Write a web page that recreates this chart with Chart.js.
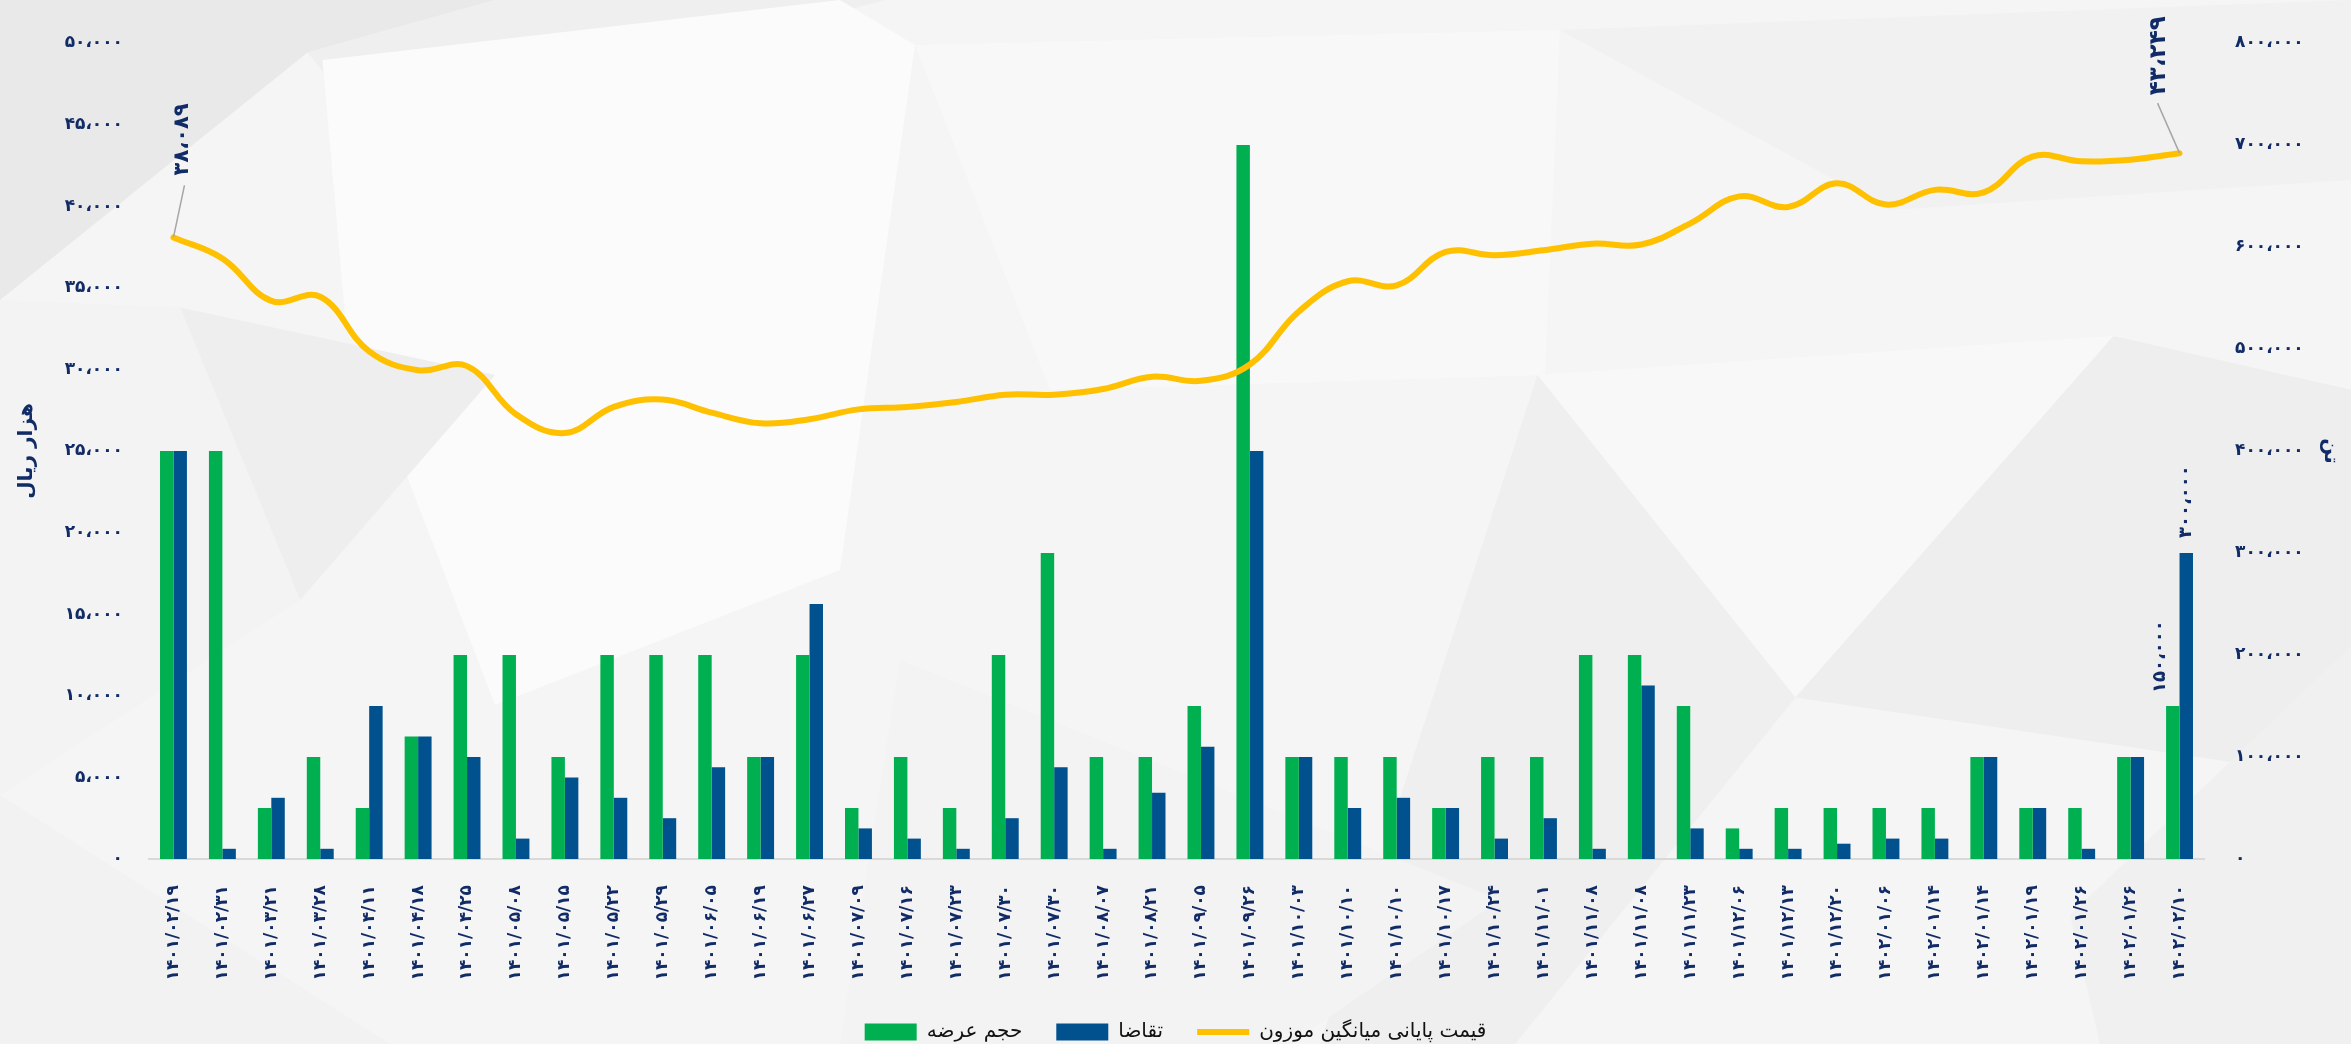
<!DOCTYPE html>
<html lang="fa">
<head>
<meta charset="utf-8">
<title>عرضه، تقاضا و قیمت</title>
<script src="https://cdn.jsdelivr.net/npm/chart.js@4.4.1/dist/chart.umd.min.js"></script>
<style>
  html, body { margin: 0; padding: 0; background: #f5f5f5; }
  #wrap { position: relative; width: 2351px; height: 1044px; }
</style>
</head>
<body>
<div id="wrap"><canvas id="supplyChart"></canvas></div>
<script>
const dates = [
    '۱۴۰۱/۰۲/۱۹', '۱۴۰۱/۰۲/۳۱', '۱۴۰۱/۰۳/۲۱', '۱۴۰۱/۰۳/۲۸', '۱۴۰۱/۰۴/۱۱', '۱۴۰۱/۰۴/۱۸',
    '۱۴۰۱/۰۴/۲۵', '۱۴۰۱/۰۵/۰۸', '۱۴۰۱/۰۵/۱۵', '۱۴۰۱/۰۵/۲۲', '۱۴۰۱/۰۵/۲۹', '۱۴۰۱/۰۶/۰۵',
    '۱۴۰۱/۰۶/۱۹', '۱۴۰۱/۰۶/۲۷', '۱۴۰۱/۰۷/۰۹', '۱۴۰۱/۰۷/۱۶', '۱۴۰۱/۰۷/۲۳', '۱۴۰۱/۰۷/۳۰',
    '۱۴۰۱/۰۷/۳۰', '۱۴۰۱/۰۸/۰۷', '۱۴۰۱/۰۸/۲۱', '۱۴۰۱/۰۹/۰۵', '۱۴۰۱/۰۹/۲۶', '۱۴۰۱/۱۰/۰۳',
    '۱۴۰۱/۱۰/۱۰', '۱۴۰۱/۱۰/۱۰', '۱۴۰۱/۱۰/۱۷', '۱۴۰۱/۱۰/۲۴', '۱۴۰۱/۱۱/۰۱', '۱۴۰۱/۱۱/۰۸',
    '۱۴۰۱/۱۱/۰۸', '۱۴۰۱/۱۱/۲۳', '۱۴۰۱/۱۲/۰۶', '۱۴۰۱/۱۲/۱۳', '۱۴۰۱/۱۲/۲۰', '۱۴۰۲/۰۱/۰۶',
    '۱۴۰۲/۰۱/۱۴', '۱۴۰۲/۰۱/۱۴', '۱۴۰۲/۰۱/۱۹', '۱۴۰۲/۰۱/۲۶', '۱۴۰۲/۰۱/۲۶', '۱۴۰۲/۰۲/۱۰'
];

// tons
const supply = [
    400000, 400000, 50000, 100000, 50000, 120000, 200000, 200000, 100000, 200000, 200000, 200000,
    100000, 200000, 50000, 100000, 50000, 200000, 300000, 100000, 100000, 150000, 700000, 100000,
    100000, 100000, 50000, 100000, 100000, 200000, 200000, 150000, 30000, 50000, 50000, 50000,
    50000, 100000, 50000, 50000, 100000, 150000
];
const demand = [
    400000, 10000, 60000, 10000, 150000, 120000, 100000, 20000, 80000, 60000, 40000, 90000,
    100000, 250000, 30000, 20000, 10000, 40000, 90000, 10000, 65000, 110000, 400000, 100000,
    50000, 60000, 50000, 20000, 40000, 10000, 170000, 30000, 10000, 10000, 15000, 20000,
    20000, 100000, 50000, 10000, 100000, 300000
];

// thousand rials
const price = [
    38089, 36800, 34200, 34450, 31100, 29950, 30200, 27250, 26100, 27700, 28150, 27350,
    26700, 26950, 27550, 27700, 28000, 28450, 28450, 28800, 29550, 29300, 30300, 33550,
    35400, 35150, 37200, 37000, 37300, 37700, 37650, 38950, 40600, 39950, 41400, 40100,
    41000, 40850, 43050, 42750, 42850, 43249
];

const navy = '#112B66';
const fontFamily = '"DejaVu Sans", sans-serif';

function toFa(n) {
    const s = Math.round(n).toString().replace(/\B(?=(\d{3})+(?!\d))/g, '،');
    return s.replace(/\d/g, d => '۰۱۲۳۴۵۶۷۸۹'[d]);
}

// soft low-poly backdrop (coords at half scale, x1.5 when drawn)
const backdropShapes = [
    { c: '#e9e9e9', p: [[0, 0], [330, 0], [205, 35], [0, 200]] },
    { c: '#efefef', p: [[205, 35], [330, 0], [590, 0], [250, 90]] },
    { c: '#fbfbfb', p: [[215, 40], [560, 0], [610, 30], [560, 380], [330, 470], [230, 210]] },
    { c: '#eeeeee', p: [[120, 205], [330, 250], [200, 400]] },
    { c: '#f3f3f3', p: [[0, 200], [120, 205], [200, 400], [0, 530]] },
    { c: '#f8f8f8', p: [[610, 30], [1040, 20], [1030, 250], [700, 260]] },
    { c: '#f1f1f1', p: [[1040, 20], [1568, 0], [1568, 120], [1260, 140]] },
    { c: '#efefef', p: [[1025, 250], [880, 696], [1010, 696], [1197, 465]] },
    { c: '#f8f8f8', p: [[1025, 250], [1409, 224], [1197, 465]] },
    { c: '#eeeeee', p: [[1197, 465], [1409, 224], [1568, 260], [1568, 520]] },
    { c: '#f0f0f0', p: [[1380, 610], [1568, 430], [1568, 696], [1400, 696]] },
    { c: '#f2f2f2', p: [[0, 530], [260, 696], [0, 696]] },
    { c: '#f3f3f3', p: [[600, 440], [1000, 600], [860, 696], [560, 696]] }
];

const backdrop = {
    id: 'backdrop',
    beforeDraw(chart) {
        const ctx = chart.ctx;
        ctx.save();
        ctx.fillStyle = '#f5f5f5';
        ctx.fillRect(0, 0, chart.width, chart.height);
        backdropShapes.forEach(s => {
            ctx.fillStyle = s.c;
            ctx.beginPath();
            s.p.forEach(([x, y], i) => i ? ctx.lineTo(x * 1.5, y * 1.5) : ctx.moveTo(x * 1.5, y * 1.5));
            ctx.closePath();
            ctx.fill();
        });
        ctx.restore();
    }
};

function upText(ctx, text, x, y) {
    ctx.save();
    ctx.translate(x, y);
    ctx.rotate(-Math.PI / 2);
    ctx.textAlign = 'left';
    ctx.textBaseline = 'middle';
    ctx.fillText(text, 0, 0);
    ctx.restore();
}

// value callouts on the first/last price and the last bars
const callouts = {
    id: 'callouts',
    afterDatasetsDraw(chart) {
        const ctx = chart.ctx;
        const pts = chart.getDatasetMeta(2).data;
        const first = pts[0];
        const last = pts[pts.length - 1];
        const g = chart.getDatasetMeta(0).data[supply.length - 1];
        const b = chart.getDatasetMeta(1).data[demand.length - 1];

        ctx.save();
        ctx.strokeStyle = '#a6a6a6';
        ctx.lineWidth = 1.5;
        ctx.beginPath();
        ctx.moveTo(first.x, first.y);
        ctx.lineTo(first.x + 11, first.y - 52);
        ctx.moveTo(last.x, last.y);
        ctx.lineTo(last.x - 22, last.y - 50);
        ctx.stroke();

        ctx.fillStyle = navy;
        ctx.font = 'bold 21px ' + fontFamily;
        upText(ctx, toFa(price[0]), first.x + 9, first.y - 62);
        ctx.font = 'bold 23px ' + fontFamily;
        upText(ctx, toFa(price[price.length - 1]), last.x - 21, last.y - 58);
        ctx.font = 'bold 18px ' + fontFamily;
        upText(ctx, toFa(supply[supply.length - 1]), g.x - 12, g.y - 13);
        upText(ctx, toFa(demand[demand.length - 1]), b.x, b.y - 15);
        ctx.restore();
    }
};

const ctx = document.getElementById('supplyChart').getContext('2d');
new Chart(ctx, {
    type: 'bar',
    data: {
        labels: dates,
        datasets: [{
            label: 'حجم عرضه',
            data: supply,
            backgroundColor: '#00b050',
            yAxisID: 'yTon',
            pointStyle: 'rect',
            order: 1
        }, {
            label: 'تقاضا',
            data: demand,
            backgroundColor: '#00518e',
            yAxisID: 'yTon',
            pointStyle: 'rect',
            order: 1
        }, {
            type: 'line',
            label: 'قیمت پایانی میانگین موزون',
            data: price,
            borderColor: '#ffc000',
            backgroundColor: '#ffc000',
            borderWidth: 6,
            borderCapStyle: 'round',
            pointRadius: 0,
            pointStyle: 'line',
            tension: 0.4,
            yAxisID: 'yPrice',
            order: 0
        }]
    },
    options: {
        responsive: true,
        maintainAspectRatio: false,
        animation: false,
        layout: { padding: { top: 43, left: 0, right: 0, bottom: -8 } },
        datasets: {
            bar: { barPercentage: 1.0, categoryPercentage: 0.55 }
        },
        plugins: {
            tooltip: { enabled: false },
            legend: {
                position: 'bottom',
                labels: {
                    usePointStyle: true,
                    pointStyleWidth: 52,
                    boxHeight: 17,
                    padding: 34,
                    color: '#111111',
                    font: { family: fontFamily, size: 20 },
                    sort: (a, b) => a.datasetIndex - b.datasetIndex
                }
            }
        },
        scales: {
            x: {
                grid: { display: false },
                border: { display: true, color: '#d9d9d9', width: 2 },
                ticks: {
                    color: navy,
                    minRotation: 90,
                    maxRotation: 90,
                    autoSkip: false,
                    padding: 18,
                    font: { family: fontFamily, size: 17, weight: 'bold' }
                },
                afterFit: scale => {
                    const lg = scale.chart.legend;
                    const legendH = lg && lg.height ? lg.height : 64;
                    scale.height = scale.chart.height + 8 - legendH - 859;
                }
            },
            yPrice: {
                position: 'left',
                min: 0,
                max: 50000,
                grid: { display: false },
                border: { display: false },
                ticks: {
                    stepSize: 5000,
                    padding: 18,
                    color: navy,
                    font: { family: fontFamily, size: 17, weight: 'bold' },
                    callback: v => toFa(v)
                },
                title: {
                    display: true,
                    text: 'هزار ریال',
                    color: navy,
                    padding: { top: 15, bottom: 0 },
                    font: { family: fontFamily, size: 20, weight: 'bold' }
                },
                afterFit: scale => { scale.width = 149; }
            },
            yTon: {
                position: 'right',
                min: 0,
                max: 800000,
                grid: { display: false },
                border: { display: false },
                ticks: {
                    stepSize: 100000,
                    padding: 23,
                    color: navy,
                    font: { family: fontFamily, size: 17, weight: 'bold' },
                    callback: v => toFa(v)
                },
                title: {
                    display: true,
                    text: 'تن',
                    color: navy,
                    padding: { top: 9, bottom: 0 },
                    font: { family: fontFamily, size: 20, weight: 'bold' }
                },
                afterFit: scale => { scale.width = 147; }
            }
        }
    },
    plugins: [backdrop, callouts]
});
</script>
</body>
</html>
